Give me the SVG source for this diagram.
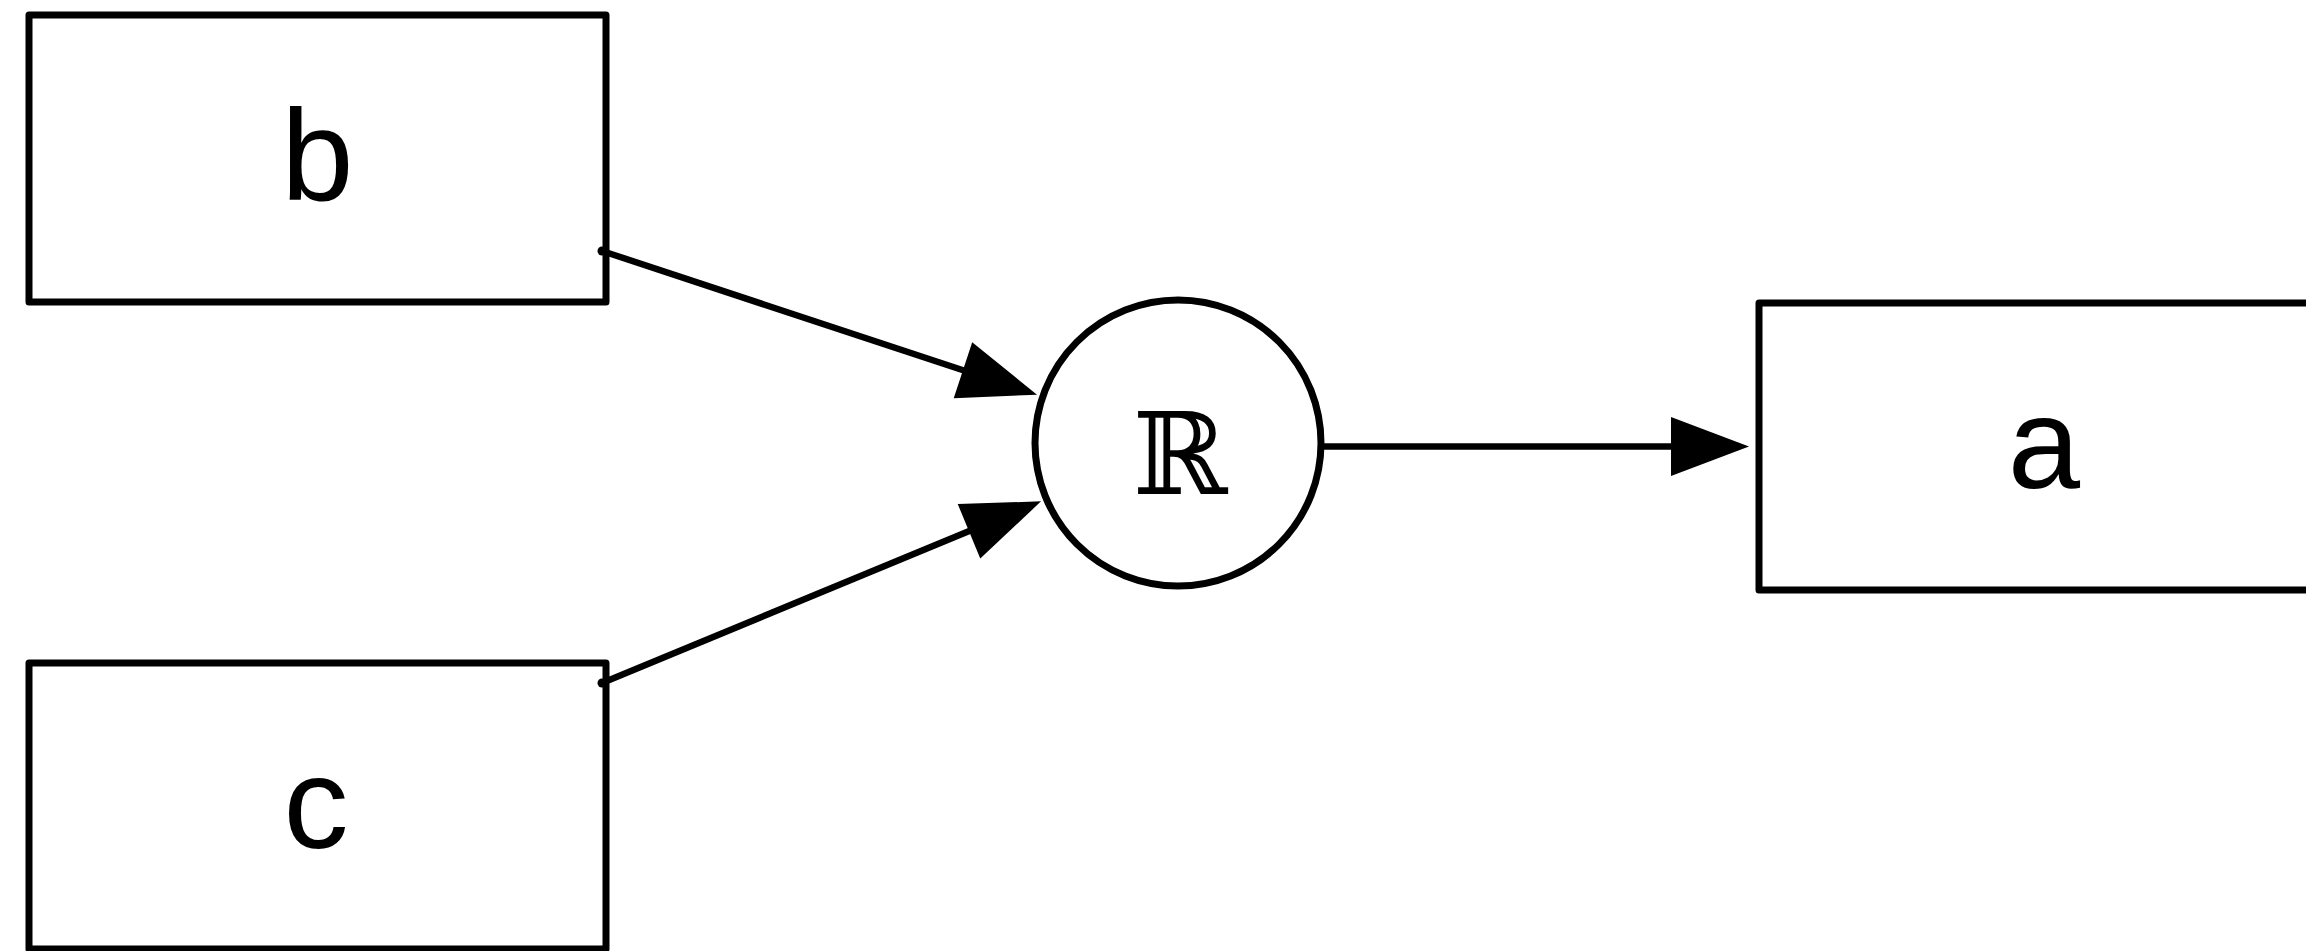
<svg xmlns="http://www.w3.org/2000/svg" width="2306" height="951" viewBox="0 0 2306 951">
  <style>
    .box { fill: #ffffff; stroke: #000000; stroke-width: 7; stroke-linejoin: round; }
    .op { fill: #ffffff; stroke: #000000; stroke-width: 7; }
    .label { font-family: "Liberation Sans", Arial, sans-serif; font-size: 130px; fill: #000000; text-anchor: middle; }
    .sym { font-family: "DejaVu Serif", serif; font-size: 114px; fill: #000000; text-anchor: middle; }
    .edge { fill: none; stroke: #000000; stroke-width: 6.5; }
    .dot { fill: #000000; }
  </style>
  <defs>
    <marker id="arrow" markerUnits="userSpaceOnUse" markerWidth="80" markerHeight="60" refX="1" refY="29.5" orient="auto" overflow="visible">
      <path d="M0,0 L78,29.5 L0,59 Z" fill="#000000"/>
    </marker>
  </defs>
  <rect width="2306" height="951" fill="#ffffff"/>

  <g id="node-b">
    <rect class="box" x="29" y="15" width="577" height="287"/>
    <text class="label" x="317.5" y="200">b</text>
  </g>
  <g id="node-c">
    <rect class="box" x="29" y="663" width="577" height="286"/>
    <text class="label" x="316" y="848">c</text>
  </g>
  <g id="node-r">
    <circle class="op" cx="1178" cy="443" r="143"/>
    <text class="sym" x="1180" y="494">ℝ</text>
  </g>
  <g id="node-a">
    <rect class="box" x="1759" y="303" width="577" height="287"/>
    <text class="label" x="2044" y="488">a</text>
  </g>

  <g id="connectors">
    <path class="edge" d="M602,251 L963.9,370.5" marker-end="url(#arrow)"/>
    <circle class="dot" cx="602" cy="251" r="4.5"/>
    <path class="edge" d="M602,683 L969.9,530.8" marker-end="url(#arrow)"/>
    <circle class="dot" cx="602" cy="683" r="4.5"/>
    <path class="edge" d="M1322,446.5 L1672,446.5" marker-end="url(#arrow)"/>
  </g>
</svg>
